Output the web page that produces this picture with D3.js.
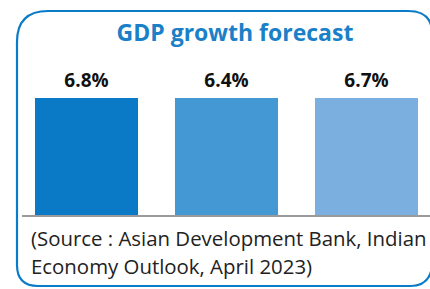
<!DOCTYPE html>
<html>
<head>
<meta charset="utf-8">
<script src="https://cdn.jsdelivr.net/npm/d3@7"></script>
<style>
  body { margin: 0; background: #fff; }
  svg { display: block; }
</style>
</head>
<body>
<div id="chart"></div>
<script>
(function() {
    var width = 430;
    var height = 289;

    // data
    var categories = ["Forecast A", "Forecast B", "Forecast C"];
    var values = [6.8, 6.4, 6.7];
    var valueLabels = ["6.8%", "6.4%", "6.7%"];
    var barColors = ["#0a7ac6", "#4499d5", "#7aafdf"];
    var title = "GDP growth forecast";
    var sourceLines = ["(Source : Asian Development Bank, Indian", "Economy Outlook, April 2023)"];

    var svg = d3.select("#chart")
        .append("svg")
        .attr("width", width)
        .attr("height", height);

    // rounded frame
    svg.append("path")
        .attr("d", "M17,42 Q17,11 48,11 L408,11 Q430,11 432,30 L432,266 Q430,286 410,286 L38,286 Q17,286 17,265 Z")
        .attr("fill", "none")
        .attr("stroke", "#0a7bc8")
        .attr("stroke-width", 2.2);

    svg.append("text")
        .attr("x", 235)
        .attr("y", 41)
        .attr("text-anchor", "middle")
        .attr("font-family", "'Open Sans', sans-serif")
        .attr("font-weight", "bold")
        .attr("font-size", 23)
        .attr("fill", "#1a80c8")
        .text(title);

    var x = d3.scaleBand()
        .domain(categories)
        .range([16.5, 436.5])
        .paddingInner(0.264)
        .paddingOuter(0.132);

    // bars in the original are drawn at equal height (infographic style)
    var y = d3.scaleLinear()
        .domain([0, 1])
        .range([216, 98]);

    var g = svg.append("g");

    g.selectAll("rect")
        .data(values)
        .enter()
        .append("rect")
        .attr("x", function(d, i) { return x(categories[i]); })
        .attr("width", x.bandwidth())
        .attr("y", y(1))
        .attr("height", y(0) - y(1))
        .attr("fill", function(d, i) { return barColors[i]; });

    g.selectAll("text.val")
        .data(values)
        .enter()
        .append("text")
        .attr("class", "val")
        .attr("x", function(d, i) { return x(categories[i]) + x.bandwidth() / 2; })
        .attr("y", 87)
        .attr("text-anchor", "middle")
        .attr("font-family", "'Open Sans', sans-serif")
        .attr("font-weight", "bold")
        .attr("font-size", 19)
        .attr("fill", "#111")
        .text(function(d, i) { return valueLabels[i]; });

    // baseline
    svg.append("line")
        .attr("x1", 22)
        .attr("x2", width)
        .attr("y1", y(0))
        .attr("y2", y(0))
        .attr("stroke", "#9a9a9a")
        .attr("stroke-width", 2);

    svg.selectAll("text.src")
        .data(sourceLines)
        .enter()
        .append("text")
        .attr("class", "src")
        .attr("x", 31)
        .attr("y", function(d, i) { return 246 + i * 28; })
        .attr("font-family", "'Open Sans', sans-serif")
        .attr("font-size", 20.4)
        .attr("fill", "#222")
        .text(function(d) { return d; });
})();
</script>
</body>
</html>
